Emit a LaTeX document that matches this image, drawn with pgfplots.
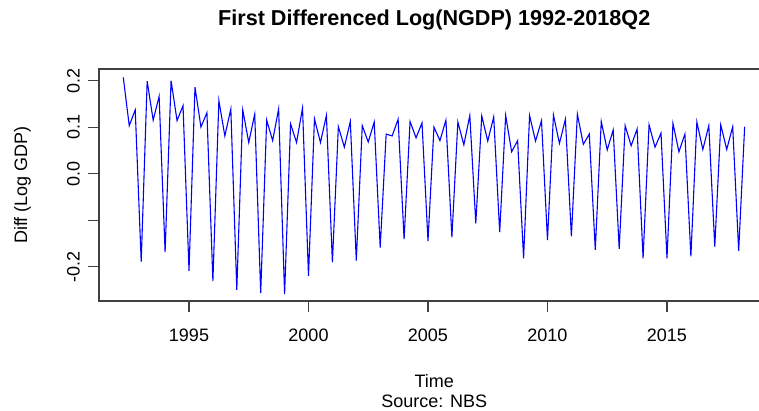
\documentclass[border=0pt]{standalone}
\usepackage{fontspec}
\setmainfont{Liberation Sans}
\usepackage{pgfplots}
\pgfplotsset{compat=1.18}
\usepackage{pgfplotstable}

\pgfplotstableread{
t v
1992.25 0.207
1992.50 0.103
1992.75 0.137
1993.00 -0.189
1993.25 0.199
1993.50 0.115
1993.75 0.166
1994.00 -0.169
1994.25 0.200
1994.50 0.114
1994.75 0.146
1995.00 -0.209
1995.25 0.186
1995.50 0.100
1995.75 0.131
1996.00 -0.231
1996.25 0.157
1996.50 0.081
1996.75 0.139
1997.00 -0.250
1997.25 0.137
1997.50 0.067
1997.75 0.128
1998.00 -0.257
1998.25 0.115
1998.50 0.071
1998.75 0.139
1999.00 -0.259
1999.25 0.107
1999.50 0.067
1999.75 0.141
2000.00 -0.220
2000.25 0.118
2000.50 0.067
2000.75 0.125
2001.00 -0.191
2001.25 0.101
2001.50 0.057
2001.75 0.112
2002.00 -0.187
2002.25 0.103
2002.50 0.068
2002.75 0.111
2003.00 -0.159
2003.25 0.085
2003.50 0.081
2003.75 0.117
2004.00 -0.141
2004.25 0.112
2004.50 0.077
2004.75 0.109
2005.00 -0.145
2005.25 0.100
2005.50 0.071
2005.75 0.115
2006.00 -0.137
2006.25 0.111
2006.50 0.062
2006.75 0.125
2007.00 -0.107
2007.25 0.124
2007.50 0.070
2007.75 0.122
2008.00 -0.126
2008.25 0.125
2008.50 0.047
2008.75 0.071
2009.00 -0.182
2009.25 0.125
2009.50 0.070
2009.75 0.114
2010.00 -0.143
2010.25 0.126
2010.50 0.065
2010.75 0.117
2011.00 -0.135
2011.25 0.128
2011.50 0.063
2011.75 0.085
2012.00 -0.164
2012.25 0.112
2012.50 0.051
2012.75 0.094
2013.00 -0.162
2013.25 0.103
2013.50 0.060
2013.75 0.096
2014.00 -0.182
2014.25 0.105
2014.50 0.057
2014.75 0.087
2015.00 -0.182
2015.25 0.108
2015.50 0.047
2015.75 0.085
2016.00 -0.178
2016.25 0.111
2016.50 0.052
2016.75 0.103
2017.00 -0.157
2017.25 0.105
2017.50 0.052
2017.75 0.101
2018.00 -0.166
2018.25 0.101
}\ngdp

\begin{document}
\begin{tikzpicture}[font=\fontsize{18}{21.6}\selectfont]
\useasboundingbox (-99pt,-109pt) rectangle (660pt,301pt);
\clip (-99pt,-109pt) rectangle (660pt,301pt);
\begin{axis}[
  name=ax,
  scale only axis, width=670.5pt, height=232pt,
  at={(0,0)}, anchor=south west,
  xmin=1991.234, xmax=2019.29, ymin=-0.274, ymax=0.225,
  xtick={1995,2000,2005,2010,2015},
  xticklabels={1995,2000,2005,2010,2015},
  ytick={-0.2,-0.1,0,0.1,0.2},
  yticklabels={-0.2,,0.0,0.1,0.2},
  tick align=outside, xtick pos=left, ytick pos=left,
  major tick length=11pt,
  tick style={black!75, line width=1.1pt},
  axis line style={black!75, line width=1.3pt},
  /pgf/number format/assume math mode=true,
  tick label style={font=\fontsize{18}{21.6}\selectfont},
  xticklabel style={anchor=north, inner sep=0pt},
  xticklabel shift=17pt,
  yticklabel style={rotate=90, anchor=south, inner sep=0pt},
  yticklabel shift=8pt,
  title={First Differenced Log(NGDP) 1992-2018Q2},
  title style={at={(axis description cs:0.5,1)}, anchor=base, yshift=37.3pt, inner sep=0pt,
    font=\bfseries\fontsize{21.6}{26}\selectfont},
  xlabel={Time},
  xlabel style={at={(axis description cs:0.5,0)}, anchor=base, yshift=-86pt, inner sep=0pt,
    font=\fontsize{18}{21.6}\selectfont},
  ylabel={Diff (Log GDP)},
  ylabel style={at={(axis description cs:-0.10738,0.5)}, rotate=0, anchor=base, inner sep=0pt,
    font=\fontsize{18}{21.6}\selectfont},
]
\addplot[blue, line width=1.1pt, mark=none] table[x=t, y=v] {\ngdp};
\end{axis}
\node[anchor=base, inner sep=0pt] at ([yshift=-106.5pt]ax.south) {Source: NBS};
\end{tikzpicture}
\end{document}
